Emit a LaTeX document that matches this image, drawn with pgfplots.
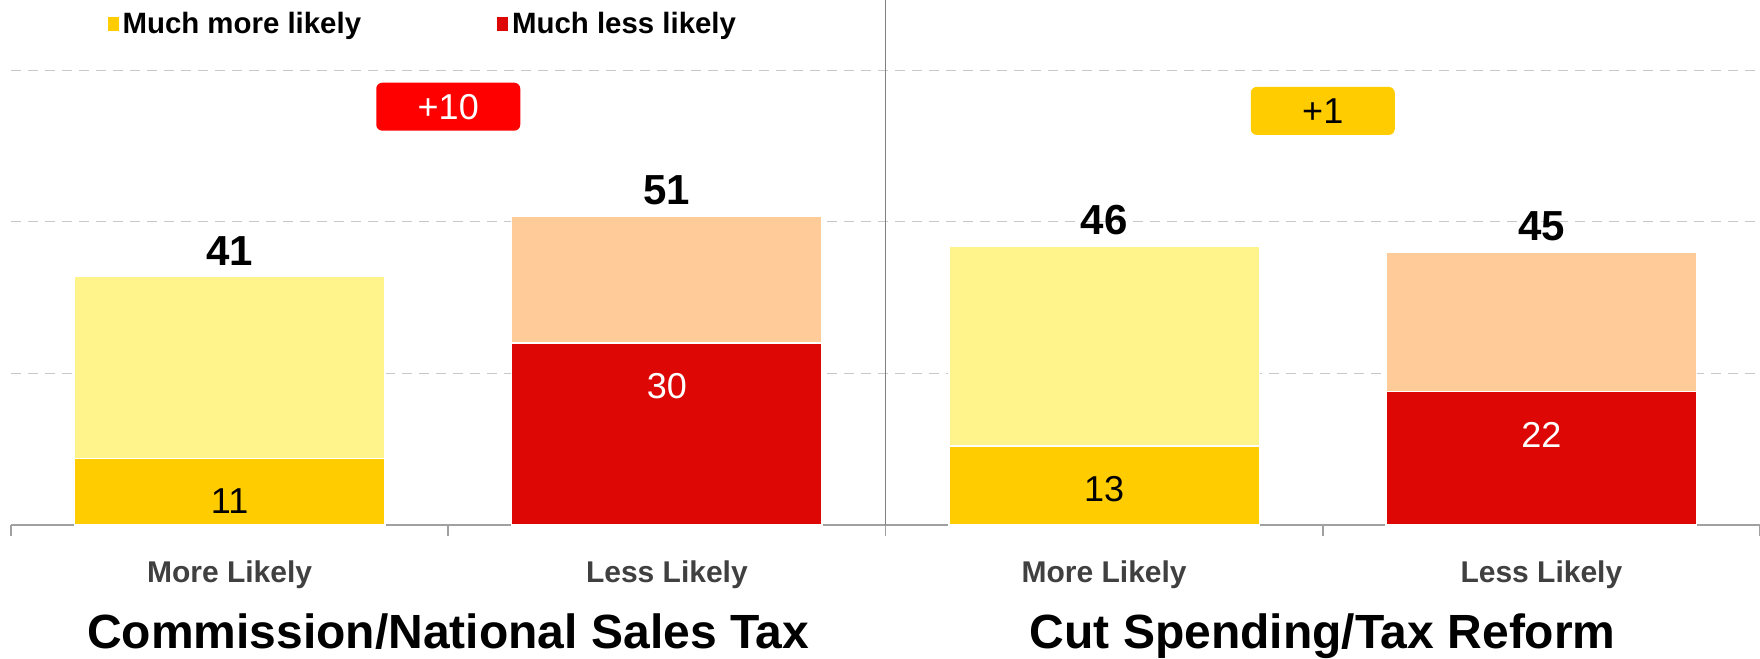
\documentclass[border=0pt]{standalone}
\usepackage{pgfplots}
\pgfplotsset{compat=1.18}
\usepackage{fontspec}
\setmainfont{Liberation Sans}
\definecolor{cgold}{HTML}{FFCC00}
\definecolor{clyel}{HTML}{FFF38C}
\definecolor{cred}{HTML}{DD0806}
\definecolor{cpeach}{HTML}{FFCC99}
\definecolor{cbadge}{HTML}{FF0000}
\definecolor{cgrid}{HTML}{C8C8C8}
\definecolor{caxis}{HTML}{A0A0A0}
\definecolor{cdiv}{HTML}{808080}
\definecolor{ctick}{HTML}{404040}
\begin{document}
\begin{tikzpicture}
\useasboundingbox (0,0) rectangle (880pt,329pt);
\begin{axis}[
  at={(5.5pt,66.5pt)}, anchor=south west,
  width=874.5pt, height=262.5pt, scale only axis,
  xmin=-0.5, xmax=3.5, ymin=0, ymax=86.6,
  clip=false,
  axis x line*=bottom, axis y line*=left,
  y axis line style={draw=none},
  x axis line style={-, draw=caxis, line width=0.8pt},
  ytick={25,50,75}, yticklabels={}, ymajorgrids,
  y tick style={draw=none},
  major grid style={cgrid, dash pattern=on 5pt off 3.5pt, line width=0.6pt},
  xtick={0,1,2,3},
  xticklabels={More Likely,Less Likely,More Likely,Less Likely},
  minor xtick={-0.5,0.5,1.5,2.5,3.5},
  major tick length=0pt, minor tick length=5.6pt,
  tick align=outside,
  minor x tick style={caxis, line width=0.8pt},
  major x tick style={draw=none},
  xticklabel style={anchor=base, yshift=-29pt, font=\fontsize{15}{17}\selectfont\bfseries, text=ctick},
  /pgf/number format/assume math mode=true,
  ybar, bar width=0.71, bar shift=0pt,
  legend columns=2,
  legend style={at={(axis description cs:0.055,0.953)}, anchor=west, draw=none, fill=none, inner sep=0pt,
    font=\fontsize{14.7}{16}\selectfont\bfseries,
    /tikz/every even column/.append style={column sep=66pt}},
  legend image code/.code={\fill[#1, draw=none] (0pt,-3.2pt) rectangle (5.5pt,3.6pt);},
]
\addplot[fill=clyel, draw=white, line width=0.8pt, forget plot, nodes near coords,
  nodes near coords style={anchor=south, yshift=5pt, inner sep=0pt, font=\fontsize{21}{24}\selectfont\bfseries, text=black}]
  coordinates {(0,41) (2,46)};
\addplot[fill=cpeach, draw=white, line width=0.8pt, forget plot, nodes near coords,
  nodes near coords style={anchor=south, yshift=5pt, inner sep=0pt, font=\fontsize{21}{24}\selectfont\bfseries, text=black}]
  coordinates {(1,51) (3,45)};
\addplot[fill=cgold, draw=white, line width=0.8pt, nodes near coords,
  nodes near coords style={anchor=center, yshift=-21.5pt, font=\fontsize{18}{20}\selectfont, text=black}]
  coordinates {(0,11) (2,13)};
\addlegendentry{Much more likely}
\addplot[fill=cred, draw=white, line width=0.8pt, nodes near coords,
  nodes near coords style={anchor=center, yshift=-21.5pt, font=\fontsize{18}{20}\selectfont, text=white}]
  coordinates {(1,30) (3,22)};
\addlegendentry{Much less likely}
\draw[cdiv, line width=0.8pt] (axis cs:1.5,0) -- (axis cs:1.5,86.6);
\node[fill=cbadge, rounded corners=3pt, minimum width=72pt, minimum height=24pt, text=white,
  font=\fontsize{18}{20}\selectfont] at (axis cs:0.5,69) {+10};
\node[fill=cgold, rounded corners=3pt, minimum width=72pt, minimum height=24pt, text=black,
  font=\fontsize{18}{20}\selectfont] at (axis cs:2.5,68.3) {+1};
\node[anchor=base, yshift=-61.7pt, font=\fontsize{24}{28}\selectfont\bfseries] at (axis cs:0.5,0) {Commission/National Sales Tax};
\node[anchor=base, yshift=-61.7pt, font=\fontsize{24}{28}\selectfont\bfseries] at (axis cs:2.5,0) {Cut Spending/Tax Reform};
\end{axis}
\end{tikzpicture}
\end{document}
